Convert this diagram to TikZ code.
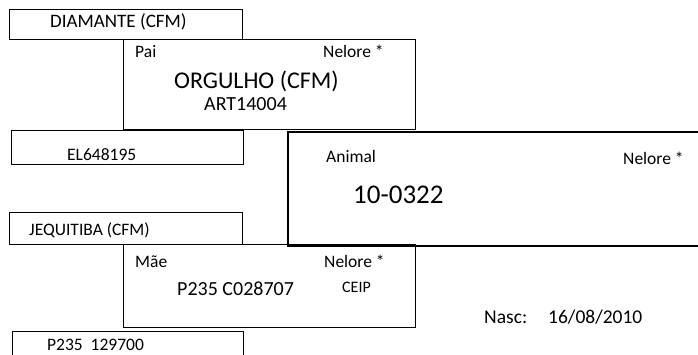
\documentclass[tikz,border=0pt]{standalone}
\usepackage{fontspec}
\setmainfont{Carlito}
\begin{document}
\begin{tikzpicture}[x=1pt,y=-1pt,
  box/.style={draw=black,line width=1.2pt,inner sep=0pt,anchor=north west},
  mainbox/.style={draw=black,line width=2.4pt,inner sep=0pt,anchor=north west},
  lbl/.style={inner sep=0pt,anchor=base west,text=black},
  fs/.style={font=\fontsize{#1}{#1}\selectfont}]
\useasboundingbox (0,0) rectangle (698,354);
\fill[white] (0,0) rectangle (698,354);
\clip (0,0) rectangle (698,354);
% boxes
\node[box,minimum width=233pt,minimum height=29.5pt] (bdiam) at (9,9) {};
\node[box,minimum width=292pt,minimum height=90pt] (bpai) at (123,39) {};
\node[box,minimum width=232pt,minimum height=34pt] (bel) at (11,130) {};
\node[mainbox,minimum width=440pt,minimum height=114pt] (banimal) at (286.5,130.5) {};
\node[box,minimum width=233pt,minimum height=32pt] (bjeq) at (9,212) {};
\node[box,minimum width=292pt,minimum height=83pt] (bmae) at (123,244) {};
\node[box,minimum width=231pt,minimum height=40pt] (bp235) at (12,331) {};
% texts
\node[lbl,fs=19] (tdiam) at (50,27) {DIAMANTE (CFM)};
\node[lbl,fs=17.5] (tpai) at (135,57) {Pai};
\node[lbl,fs=17.5] (tnel1) at (323,57) {Nelore *};
\node[lbl,fs=24] (torg) at (174,88) {ORGULHO (CFM)};
\node[lbl,fs=20] (tart) at (204,110) {ART14004};
\node[lbl,fs=17.5] (tel) at (67,160) {EL648195};
\node[lbl,fs=17.5] (tjeq) at (29,235) {JEQUITIBA (CFM)};
\node[lbl,fs=17.5] (tanimal) at (326,162) {Animal};
\node[lbl,fs=17.5] (tnel2) at (623,164) {Nelore *};
\node[lbl,fs=27] (tid) at (353,203) {10-0322};
\node[lbl,fs=17.5] (tmae) at (135,267) {Mãe};
\node[lbl,fs=17.5] (tnel3) at (324,267) {Nelore *};
\node[lbl,fs=20] (tpmae) at (177,295) {P235 C028707};
\node[lbl,fs=16] (tceip) at (342,292) {CEIP};
\node[lbl,fs=19.5] (tnasc) at (484,323) {Nasc:};
\node[lbl,fs=19.5] (tdata) at (548,323) {16/08/2010};
\node[lbl,fs=17.5] (tp235) at (47,350) {P235\hspace{0.45em}129700};
\end{tikzpicture}
\end{document}
